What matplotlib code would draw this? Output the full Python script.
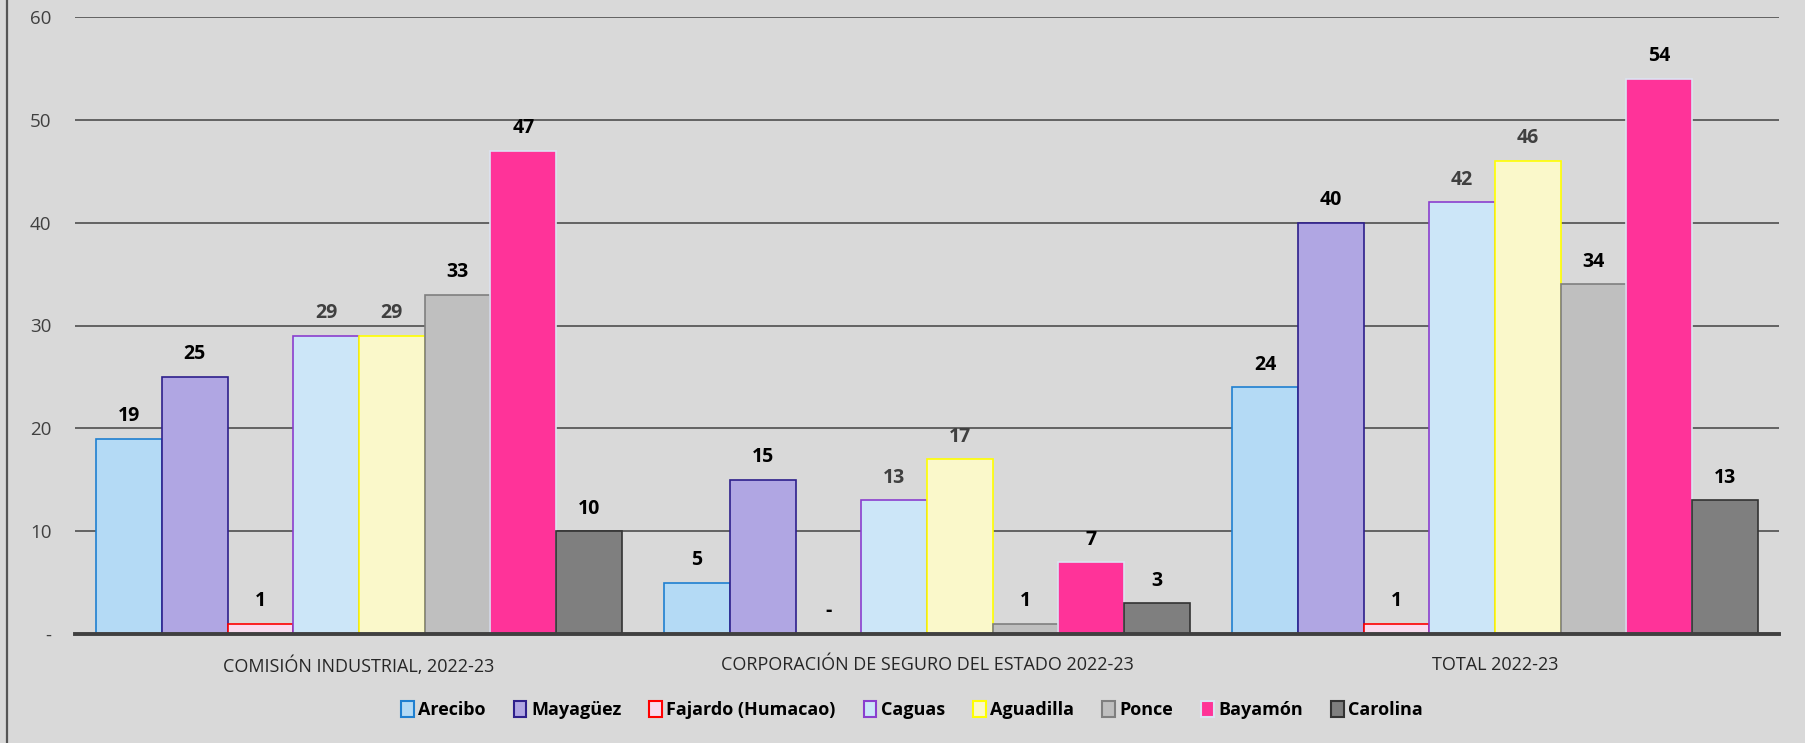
import matplotlib.pyplot as plt
import numpy as np
from matplotlib.lines import Line2D
from matplotlib.patches import Patch

# Data
categories = ['COMISIÓN INDUSTRIAL, 2022-23',
              'CORPORACIÓN DE SEGURO DEL ESTADO 2022-23',
              'TOTAL 2022-23']
regions = ['Arecibo', 'Mayagüez', 'Fajardo (Humacao)', 'Caguas',
           'Aguadilla', 'Ponce', 'Bayamón', 'Carolina']
arecibo = [19, 5, 24]
mayaguez = [25, 15, 40]
fajardo = [1, 0, 1]
caguas = [29, 13, 42]
aguadilla = [29, 17, 46]
ponce = [33, 1, 34]
bayamon = [47, 7, 54]
carolina = [10, 3, 13]
series = [arecibo, mayaguez, fajardo, caguas, aguadilla, ponce, bayamon, carolina]

yticks = [0, 10, 20, 30, 40, 50, 60]
ytick_labels = ['-', '10', '20', '30', '40', '50', '60']

# Styles
faces = ['#B4DAF5', '#B0A6E3', '#F9DCEF', '#CCE6F8',
         '#FAF8CA', '#BFBFBF', '#FF3399', '#7F7F7F']
edges = ['#1F7FD0', '#2E1F8C', '#FF0000', '#8A3FCF', '#FFFF00', '#7F7F7F',
         '#DCE3F2', '#333333']
label_colors = ['black', 'black', 'black', '#404040', '#404040', 'black',
                'black', 'black']
bg = '#D9D9D9'
font = ['Open Sans', 'DejaVu Sans']

fig = plt.figure(figsize=(18.05, 7.43), dpi=100, facecolor=bg)
ax = fig.add_axes([75 / 1805, 109 / 743, (1779 - 75) / 1805, (634 - 17) / 743])
ax.set_facecolor(bg)

x = np.arange(len(categories))
n = len(series)
w = 1 / (n + 0.64)

for i, vals in enumerate(series):
    pos = x + (i - (n - 1) / 2) * w
    ax.bar(pos, vals, width=w, color=faces[i], edgecolor=edges[i],
           linewidth=1.2, zorder=2, label=regions[i])
    for p, v in zip(pos, vals):
        txt = '-' if v == 0 else str(v)
        ax.annotate(txt, (p, v), xytext=(0, 9), textcoords='offset points',
                    ha='center', va='bottom', fontsize=14, fontweight='bold',
                    color=label_colors[i], family=font)

ax.set_ylim(0, 60)
ax.set_xlim(-0.5, 2.5)
ax.set_yticks(yticks)
ax.set_yticklabels(ytick_labels, family=font, fontsize=13.5, color='#404040')
ax.set_xticks(x)
ax.set_xticklabels(categories, family=font, fontsize=13, color='#262626')
ax.tick_params(axis='y', length=0, pad=17)
ax.tick_params(axis='x', length=0, pad=16)

ax.yaxis.grid(True, color='#595959', linewidth=1.3, zorder=1)
ax.set_axisbelow(True)
for s in ['top', 'right', 'left']:
    ax.spines[s].set_visible(False)
ax.spines['bottom'].set_color('#404040')
ax.spines['bottom'].set_linewidth(2.8)
ax.spines['bottom'].set_zorder(3)

handles = [Patch(facecolor=faces[i], edgecolor=edges[i], linewidth=1.5)
           for i in range(n)]
fig.legend(handles, regions, loc='center', bbox_to_anchor=(912 / 1805, 1 - 710 / 743),
           ncol=n, frameon=False, handlelength=0.7, handleheight=1.0,
           handletextpad=0.25, columnspacing=1.55,
           prop={'family': font, 'weight': 'bold', 'size': 13})

# left edge of the chart frame
fig.add_artist(Line2D([7 / 1805, 7 / 1805], [0, 1], color='#555555',
                      linewidth=1.6, transform=fig.transFigure))

fig.savefig('out.png', dpi=100, facecolor=bg)
